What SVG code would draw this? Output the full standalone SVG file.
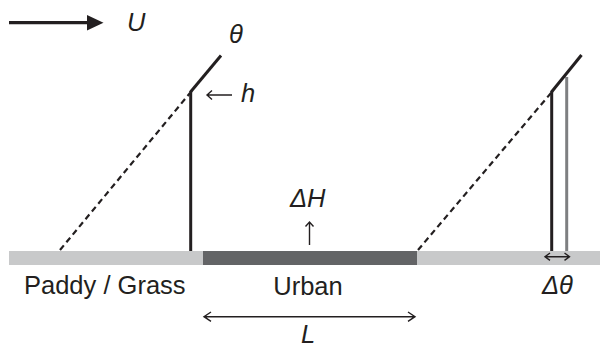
<svg xmlns="http://www.w3.org/2000/svg" width="600" height="347" viewBox="0 0 600 347">
<style>
.t{font-family:"Liberation Sans",Arial,sans-serif;font-size:25.5px;fill:#231f20}
.i{font-style:italic}
.thin{stroke:#231f20;stroke-width:1.4;fill:none}
.thick{stroke:#231f20;stroke-width:3;fill:none}
.dash{stroke:#231f20;stroke-width:2.2;stroke-dasharray:6,4;fill:none}
</style>
<rect width="600" height="347" fill="#fff"/>
<g id="ground">
<rect x="9" y="251" width="591" height="14" fill="#c8c9ca"/>
<rect x="203" y="251" width="214" height="14" fill="#636466"/>
</g>
<g id="connectors">
<line class="dash" x1="60" y1="250" x2="190" y2="93"/>
<line class="thick" x1="190.5" y1="92" x2="221" y2="55.5"/>
<line class="thick" x1="190.7" y1="91" x2="190.7" y2="251"/>
<line class="dash" x1="418" y1="250" x2="551" y2="93"/>
<line x1="566.7" y1="77" x2="566.7" y2="251" stroke="#7e7f81" stroke-width="3"/>
<line class="thick" x1="551.5" y1="92" x2="581.5" y2="55"/>
<line class="thick" x1="551.7" y1="91" x2="551.7" y2="251"/>
<line x1="9" y1="22.7" x2="90" y2="22.7" stroke="#231f20" stroke-width="3.2"/>
<path d="M87,15 L103.5,22.7 L87,30.4 Z" fill="#231f20"/>
<path class="thin" d="M207,95 H232 M212,90.5 L207,95 L212,99.5"/>
<path class="thin" d="M309.5,245 V222 M305.5,226.5 L309.5,222 L313.5,226.5"/>
<path class="thin" d="M204,316.7 H415 M211,312 L204,316.7 L211,321.4 M408,312 L415,316.7 L408,321.4" stroke-width="1.8"/>
<path class="thin" d="M545,256.7 H569.5 M550,253 L545,256.7 L550,260.4 M564.5,253 L569.5,256.7 L564.5,260.4" stroke-width="2"/>
</g>
<g id="labels">
<text class="t i" x="127" y="30.5">U</text>
<text class="t i" x="229" y="43">θ</text>
<text class="t i" x="241" y="102">h</text>
<text class="t i" x="290" y="206.5">ΔH</text>
<text class="t" x="24" y="294">Paddy / Grass</text>
<text class="t" x="308" y="294.5" text-anchor="middle">Urban</text>
<text class="t i" x="301" y="342.5">L</text>
<text class="t i" x="542" y="294">Δθ</text>
</g>
</svg>
